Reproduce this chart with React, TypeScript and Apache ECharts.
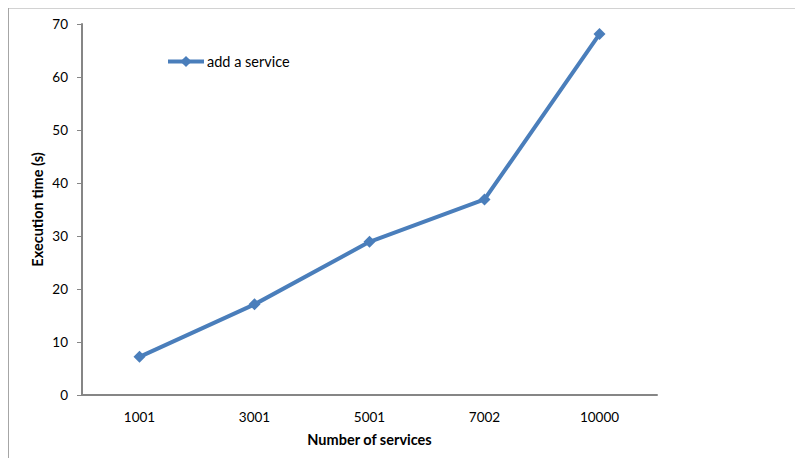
import React, { useEffect, useRef } from "react";
import * as echarts from "echarts";

const categories = ["1001", "3001", "5001", "7002", "10000"];
const addService = [7.2, 17.1, 28.9, 36.9, 68.1];
const seriesName = "add a service";
const xTitle = "Number of services";
const yTitle = "Execution time (s)";

const FONT = "Lato, 'Open Sans', sans-serif";

export default function App() {
  const ref = useRef<HTMLDivElement>(null);
  useEffect(() => {
    const chart = echarts.init(ref.current!, undefined, { renderer: "svg" });
    chart.setOption({
      animation: false,
      backgroundColor: "#ffffff",
      graphic: [
        {
          type: "rect",
          shape: { x: 0.5, y: 0, width: 820, height: 480 },
          style: { fill: "none", stroke: "#a6a6a6", lineWidth: 1 },
          z: 0,
        },
      ],
      legend: {
        left: 153,
        top: 41,
        itemWidth: 36,
        itemHeight: 14,
        itemGap: 4,
        lineStyle: { width: 4 },
        textStyle: { fontFamily: FONT, fontSize: 14.5, color: "#000", padding: [0, 0, 0, -2] },
        data: [{ name: seriesName }],
      },
      grid: { left: 74, right: 138, top: 16, bottom: 63, containLabel: false },
      xAxis: {
        type: "category",
        data: categories,
        boundaryGap: true,
        axisLine: { lineStyle: { color: "#868686", width: 2 } },
        axisTick: { show: false },
        axisLabel: { fontFamily: FONT, fontSize: 13.5, color: "#000", margin: 15 },
        name: xTitle,
        nameLocation: "middle",
        nameGap: 37,
        nameTextStyle: { fontFamily: FONT, fontSize: 14.5, fontWeight: "bold", color: "#000" },
      },
      yAxis: {
        type: "value",
        min: 0,
        max: 70,
        interval: 10,
        splitLine: { show: false },
        axisLine: { show: true, lineStyle: { color: "#868686", width: 2 } },
        axisTick: { show: true, length: 5, lineStyle: { color: "#868686", width: 1 } },
        axisLabel: { fontFamily: FONT, fontSize: 13.5, color: "#000", margin: 14 },
        name: yTitle,
        nameLocation: "middle",
        nameGap: 37,
        nameMoveOverlap: false,
        nameRotate: 90,
        nameTextStyle: { fontFamily: FONT, fontSize: 14.5, fontWeight: "bold", color: "#000" },
      },
      series: [
        {
          name: seriesName,
          type: "line",
          data: addService,
          symbol: "diamond",
          symbolSize: 12,
          lineStyle: { color: "#4a7ebb", width: 4 },
          itemStyle: { color: "#4a7ebb" },
        },
      ],
    });
    return () => chart.dispose();
  }, []);
  return <div ref={ref} style={{ width: 787, height: 450 }} />;
}
